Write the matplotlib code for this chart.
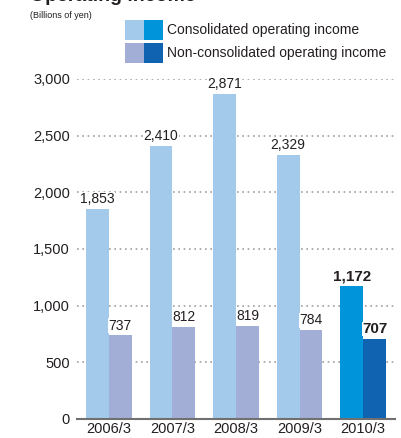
import matplotlib.pyplot as plt
from matplotlib.patches import Rectangle

years = ['2006/3', '2007/3', '2008/3', '2009/3', '2010/3']
consolidated = [1853, 2410, 2871, 2329, 1172]
non_consolidated = [737, 812, 819, 784, 707]

cons_colors = ['#A3C9EB'] * 4 + ['#0095DA']
noncons_colors = ['#A3AED6'] * 4 + ['#1063B0']

plt.rcParams['font.family'] = ['Liberation Sans', 'DejaVu Sans']
ink = '#231f20'

fig = plt.figure(figsize=(4.01, 4.38), dpi=100)
ax = fig.add_axes([77 / 401, 19 / 438, 318 / 401, 340 / 438])

x = list(range(len(years)))
w = 0.36
ax.bar([i - w / 2 for i in x], consolidated, width=w, color=cons_colors, zorder=2)
ax.bar([i + w / 2 for i in x], non_consolidated, width=w, color=noncons_colors, zorder=2)

for i in x:
    last = i == len(years) - 1
    fw = 'bold' if last else 'normal'
    fs = 11 if last else 10
    for xpos, val in [(i - w / 2, consolidated[i]), (i + w / 2, non_consolidated[i])]:
        ax.text(xpos, val + 25, f'{val:,}', ha='center', va='bottom',
                fontsize=fs, fontweight=fw, color=ink, zorder=3,
                bbox=dict(facecolor='white', edgecolor='none', pad=0.3))

ax.set_xlim(-0.5, 4.5)
ax.set_ylim(0, 3000)
ax.set_yticks(range(0, 3001, 500))
ax.set_yticklabels([f'{v:,}' for v in range(0, 3001, 500)], fontsize=10.5, color=ink)
ax.set_xticks(x)
ax.set_xticklabels(years, fontsize=10.5, color=ink)
ax.tick_params(axis='x', length=0, pad=2)
ax.tick_params(axis='y', length=0, pad=5)
ax.yaxis.grid(True, linestyle=(0, (1, 2.2)), color='#a0a0a0', linewidth=1.2, zorder=1)
for s in ['top', 'right', 'left']:
    ax.spines[s].set_visible(False)
ax.spines['bottom'].set_color('#707070')
ax.spines['bottom'].set_linewidth(1.5)
ax.spines['bottom'].set_zorder(4)

# heading runs off the top edge
fig.text(30 / 401, 1 - 1 / 438, 'Operating income', fontsize=14, fontweight='bold',
         va='baseline', ha='left', color=ink)
fig.text(30 / 401, 1 - 16 / 438, '(Billions of yen)', fontsize=6.5,
         va='center', ha='left', color=ink)

# legend swatches: light/dark pair per series
legend = [('Consolidated operating income', '#A3C9EB', '#0095DA', 30),
          ('Non-consolidated operating income', '#A3AED6', '#1063B0', 53)]
for label, c1, c2, yc in legend:
    for j, c in enumerate([c1, c2]):
        fig.add_artist(Rectangle(((125 + 19 * j) / 401, 1 - (yc + 9.5) / 438), 19 / 401, 19 / 438,
                                 transform=fig.transFigure, facecolor=c, edgecolor='none'))
    fig.text(167 / 401, 1 - yc / 438, label, fontsize=10,
             va='center', ha='left', color=ink)

fig.savefig('out.png', dpi=100)
